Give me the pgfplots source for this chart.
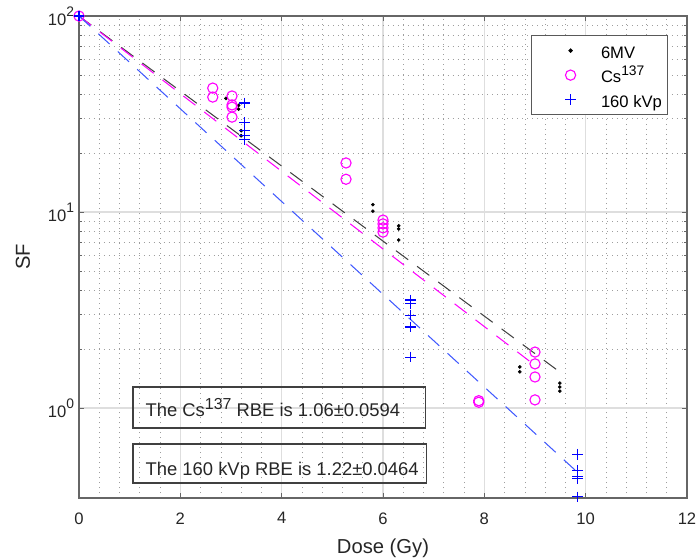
\documentclass[border=0pt]{standalone}
\usepackage{fontspec}
\setmainfont{Liberation Sans}
\usepackage{pgfplots}
\pgfplotsset{compat=1.18}
\definecolor{mag}{rgb}{1,0,1}
\definecolor{fitblue}{rgb}{0.25,0.35,1}
\newcommand{\tpow}[1]{10\raisebox{6.3pt}{\fontsize{10}{10}\selectfont #1}}
\newcommand{\csup}[2]{\raisebox{#2}{\fontsize{#1}{#1}\selectfont 137}}
\newcommand{\leg}[1]{\makebox[44pt][l]{\rule[-4.6pt]{0pt}{16.8pt}#1}}

\begin{document}
\begin{tikzpicture}
\begin{axis}[
  scale only axis, width=439.4pt, height=348.3pt,
  xmin=0, xmax=12, ymin=0.3475, ymax=100, ymode=log,
  xtick={0,2,...,12}, minor x tick num=4,
  ytick={1,10,100}, yticklabels={\tpow{0},\tpow{1},\tpow{2}},
  /pgf/number format/assume math mode=true,
  grid=both,
  major grid style={black!13, line width=0.9pt},
  minor grid style={black!38, line width=0.5pt, dash pattern=on 0.6pt off 3pt},
  minor x tick style={draw=none},
  tick align=inside, major tick length=3.6pt, minor tick length=2.2pt,
  tick style={black!60, line width=0.7pt},
  axis line style={black!60, line width=0.9pt},
  ticklabel style={font=\fontsize{12}{14}\selectfont, text=black!85},
  xticklabel style={yshift=-7pt},
  xlabel={Dose (Gy)}, ylabel={SF},
  xlabel shift=4pt, ylabel shift=6pt,
  label style={font=\fontsize{14.6}{17}\selectfont, text=black!85},
  legend cell align=left,
  legend style={at={(1,1)}, anchor=north east, xshift=-13.7pt, yshift=-13.7pt,
    draw=black!65, line width=0.9pt, fill=white, inner sep=2pt,
    font=\fontsize{12}{14}\selectfont, row sep=0pt},
  legmark/.style={legend image code/.code={%
    \path[draw=none, fill=none] (0pt,-3pt) rectangle (46pt,3pt);
    \draw[mark repeat=2, mark phase=2, ##1] plot coordinates {(0pt,0pt) (26pt,0pt) (46pt,0pt)};}},
]
% 6MV
\addplot[only marks, mark=*, mark size=1.1pt, black, legmark] coordinates {
  (0,100) (2.9,38) (3.15,35) (3.15,33.5) (3.2,26) (3.2,24.5)
  (5.8,10.9) (5.8,10.1) (6.31,8.5) (6.31,8.2) (6.31,7.2)
  (8.7,1.62) (8.7,1.53) (9.49,1.34) (9.49,1.28) (9.49,1.22)};
\addlegendentry{\leg{6MV}}
% Cs-137
\addplot[only marks, mark=o, mark size=3.7pt, mag, line width=0.8pt, legmark] coordinates {
  (0,100) (2.64,42.9) (2.64,38.6) (3.02,39.1) (3.02,35.2) (3.02,34.3) (3.02,30.5)
  (5.27,17.8) (5.27,14.7) (6.0,9.1) (6.0,8.7) (6.0,8.3) (6.0,7.9)
  (7.89,1.07) (7.89,1.09) (9.0,1.93) (9.0,1.68) (9.0,1.44) (9.0,1.10)};
\addlegendentry{\leg{Cs\csup{10}{5pt}}}
% 160 kVp
\addplot[only marks, mark=+, mark size=3.9pt, blue, line width=0.8pt, legmark] coordinates {
  (0,100) (3.27,36) (3.27,28.5) (3.27,26) (3.27,24.5) (3.27,23.5)
  (6.55,3.56) (6.55,3.43) (6.55,2.98) (6.55,2.59) (6.55,1.82)
  (9.84,0.58) (9.84,0.48) (9.84,0.445) (9.84,0.435) (9.84,0.352)};
\addlegendentry{\leg{160 kVp}}
% fitted lines
\addplot[forget plot, black!75, line width=0.75pt, dash pattern=on 11pt off 8pt] coordinates {(0,100) (9.5,1.52)};
\addplot[forget plot, mag, line width=0.75pt, dash pattern=on 11pt off 8pt] coordinates {(0,100) (9.0,1.65)};
\addplot[forget plot, fitblue, line width=0.75pt, dash pattern=on 11pt off 8pt] coordinates {(0,100) (9.8,0.48)};

\draw[black!75, line width=0.9pt] (axis cs:1.065,0.79) rectangle (axis cs:6.84,1.28);
\draw[black!75, line width=0.9pt] (axis cs:1.065,0.414) rectangle (axis cs:6.86,0.655);
\node[anchor=base west, inner sep=0pt, font=\fontsize{13.3}{15}\selectfont, text=black!85]
  at (axis cs:1.31,0.90) {The Cs\csup{11.5}{5.6pt} RBE is 1.06±0.0594};
\node[anchor=base west, inner sep=0pt, font=\fontsize{13.3}{15}\selectfont, text=black!85]
  at (axis cs:1.31,0.455) {The 160 kVp RBE is 1.22±0.0464};

\coordinate (bl) at (rel axis cs:0,0);
\coordinate (tr) at (rel axis cs:1,1);
\end{axis}
\pgfresetboundingbox
\path[use as bounding box] ([xshift=-57.1pt,yshift=-44.1pt]bl) rectangle ([xshift=9.4pt,yshift=11.6pt]tr);
\end{tikzpicture}
\end{document}
